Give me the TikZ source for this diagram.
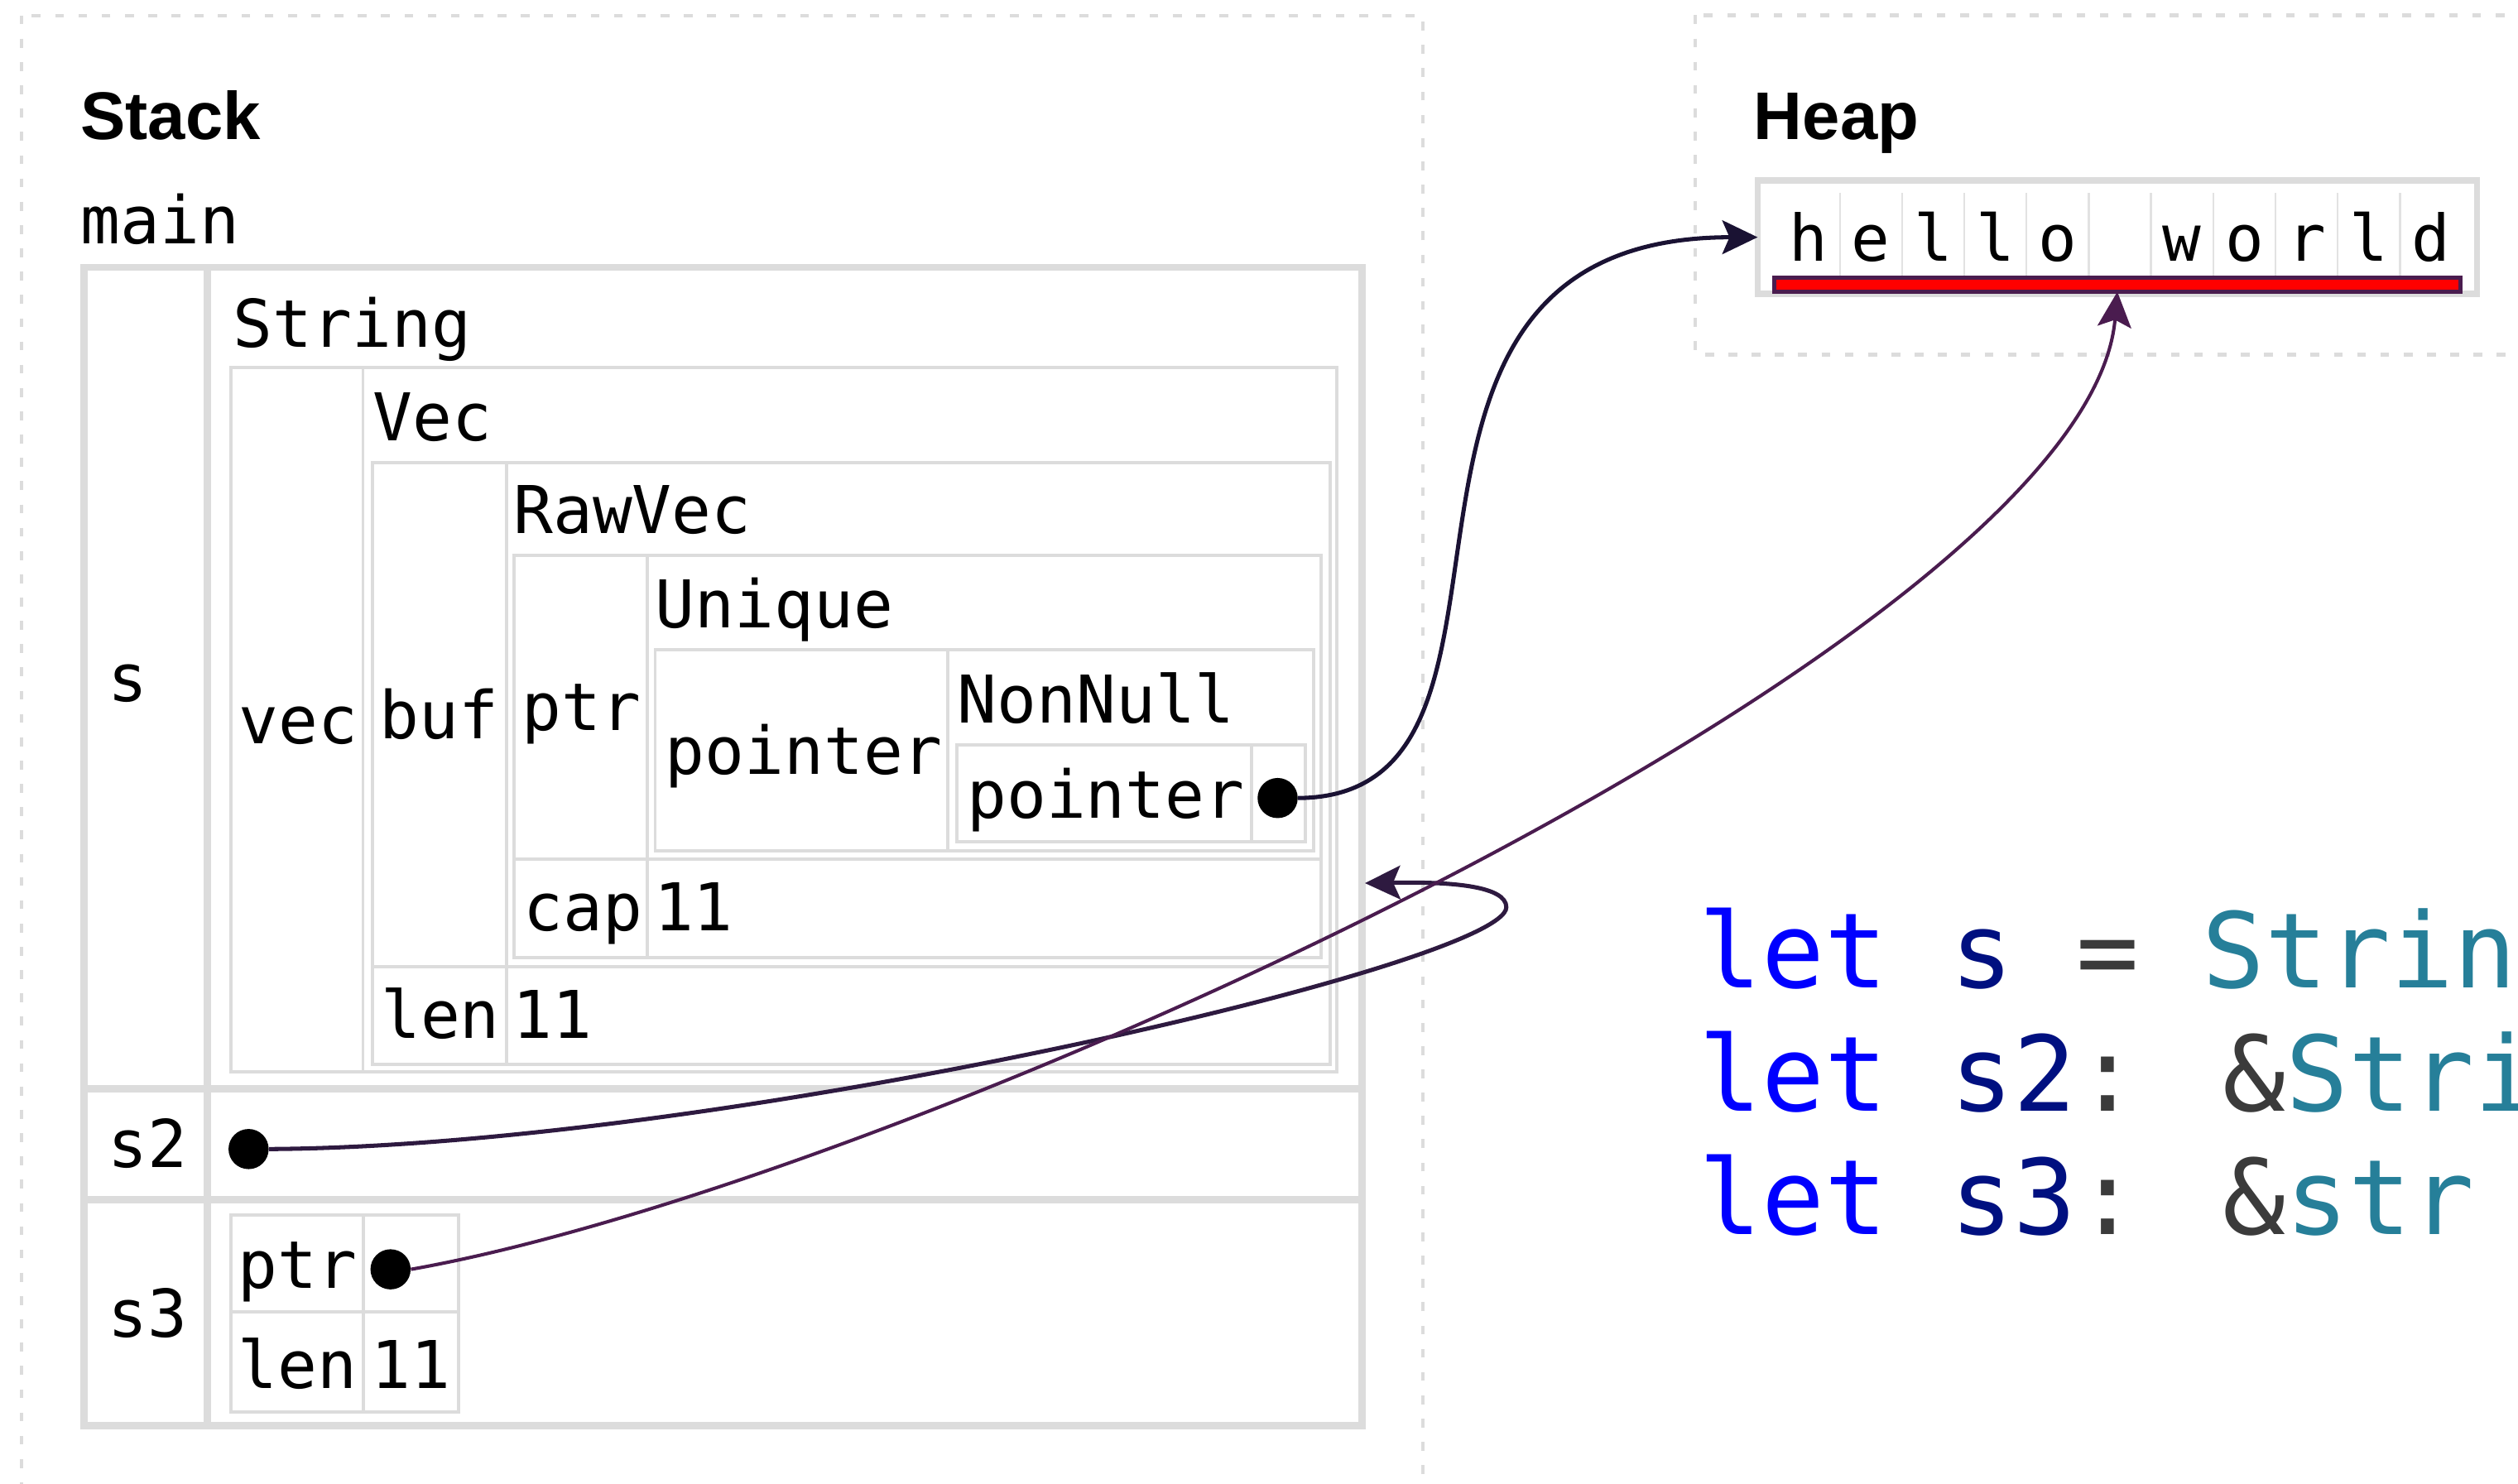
\documentclass[tikz,border=0pt]{standalone}
\usepackage{fontspec}
\setmainfont{DejaVu Sans Mono}
\newfontfamily\headfont{Liberation Sans}
\newfontfamily\tabfont{DejaVu Sans Mono}
\usetikzlibrary{arrows.meta}
\definecolor{gridc}{HTML}{DCDCDC}
\definecolor{cellc}{HTML}{E2E2E2}
\definecolor{navyA}{HTML}{1A1233}
\definecolor{plumA}{HTML}{2E1A40}
\definecolor{plumB}{HTML}{4A1C4F}
\definecolor{kwc}{HTML}{0000FF}
\definecolor{varc}{HTML}{001080}
\definecolor{punc}{HTML}{3B3B3B}
\definecolor{typec}{HTML}{267F99}
\begin{document}
\begin{tikzpicture}[x=1pt,y=-1pt,
  thickbox/.style={draw=gridc,line width=4.5pt},
  thinbox/.style={draw=gridc,line width=2pt},
  dashbox/.style={draw=gridc,line width=2.2pt,dash pattern=on 5.5pt off 9pt},
  lbl/.style={anchor=base west,inner sep=0pt,font=\tabfont\fontsize{41}{41}\selectfont},
  head/.style={anchor=base west,inner sep=0pt,font=\headfont\bfseries\fontsize{42}{42}\selectfont},
  code/.style={anchor=base west,inner sep=0pt,font=\tabfont\fontsize{65}{65}\selectfont},
  chr/.style={anchor=base,inner sep=0pt,font=\tabfont\fontsize{40}{40}\selectfont},
  dot/.style={circle,fill=black,inner sep=0pt,minimum size=25pt},
  ptrarrow/.style={line width=2.6pt,-{Stealth[length=22pt,width=21pt,inset=4.5pt]}}
]
\useasboundingbox (0,0) rectangle (1568,923.7);

% dashed regions
\draw[dashbox] (13.3,9.7) rectangle (886,970);
\draw[dashbox] (1055.6,9.5) rectangle (1640,220.8);

% titles
\node[head] (stackT) at (50,87) {Stack};
\node[head] (heapT) at (1092,87) {Heap};
\node[lbl] (mainT) at (50,152) {main};

% main table
\draw[thickbox] (52.5,166.5) rectangle (848,888);
\draw[thickbox] (129,166.5) -- (129,888);
\draw[thickbox] (52.5,678) -- (848,678);
\draw[thickbox] (52.5,747) -- (848,747);

% row s
\node[lbl] (sL) at (67,437) {s};
\node[lbl] (stringT) at (145,216) {String};
\draw[thinbox] (144,229) rectangle (832.5,667.6);
\draw[thinbox] (226,229) -- (226,667.6);
\node[lbl] (vecL) at (148.5,463) {vec};
\node[lbl] (vecT) at (232,274.5) {Vec};
\draw[thinbox] (232,288) rectangle (828.5,663);
\draw[thinbox] (315.5,288) -- (315.5,663);
\draw[thinbox] (232,602) -- (828.5,602);
\node[lbl] (bufL) at (236,460) {buf};
\node[lbl] (rawT) at (319.5,332.3) {RawVec};
\draw[thinbox] (320,346) rectangle (822.5,596.5);
\draw[thinbox] (403,346) -- (403,596.5);
\draw[thinbox] (320,535) -- (822.5,535);
\node[lbl] (ptrL) at (325,454.7) {ptr};
\node[lbl] (uniqT) at (408,391) {Unique};
\draw[thinbox] (408,404.5) rectangle (818,530);
\draw[thinbox] (590.3,404.5) -- (590.3,530);
\node[lbl] (pointerL) at (414,482) {pointer};
\node[lbl] (nnT) at (596,450) {NonNull};
\draw[thinbox] (596,463.8) rectangle (813,524);
\draw[thinbox] (779.5,463.8) -- (779.5,524);
\node[lbl] (pointer2L) at (602,509.5) {pointer};
\node[lbl] (capL) at (326,579.7) {cap};
\node[lbl] (capV) at (407,579.7) {11};
\node[lbl] (lenL) at (237,646.5) {len};
\node[lbl] (lenV) at (319,646.5) {11};

% row s2
\node[lbl] (s2L) at (67,727) {s2};
% row s3
\node[lbl] (s3L) at (67,832.7) {s3};
\draw[thinbox] (144,756.5) rectangle (285.5,879.5);
\draw[thinbox] (226.4,756.5) -- (226.4,879.5);
\draw[thinbox] (144,817) -- (285.5,817);
\node[lbl] (ptr3L) at (148,802.2) {ptr};
\node[lbl] (len3L) at (148,864.4) {len};
\node[lbl] (len3V) at (231,864.4) {11};

% heap
\node[draw=gridc,line width=4pt,fill=white,minimum width=448pt,minimum height=70.5pt,inner sep=0pt,outer sep=0pt] (heap) at (1318.5,147.75) {};
\foreach \i in {1,...,10} {
  \draw[cellc,line width=1.2pt] ({1106.9+38.76*\i},120.3) -- ({1106.9+38.76*\i},171.8);
}
\foreach \c [count=\i from 0] in {h,e,l,l,o,{},w,o,r,l,d} {
  \node[chr] (ch\i) at ({1106.9+38.76*(\i+0.5)},162.4) {\c};
}
\node[draw=plumB,fill=red,line width=2.6pt,minimum width=427.2pt,minimum height=8.6pt,inner sep=0pt,outer sep=0pt] (bar) at (1318.5,177.4) {};

% code
\node[code] (code1) at (1058,615.1) {\textcolor{kwc}{let} \textcolor{varc}{s} \textcolor{punc}{=} \textcolor{typec}{Strin}};
\node[code] (code2) at (1058,692) {\textcolor{kwc}{let} \textcolor{varc}{s2}\textcolor{punc}{: \&}\textcolor{typec}{Stri}};
\node[code] (code3) at (1058,768.9) {\textcolor{kwc}{let} \textcolor{varc}{s3}\textcolor{punc}{: \&}\textcolor{typec}{str}};

% dots
\node[dot] (d1) at (795.6,497) {};
\node[dot] (d2) at (154.8,715.6) {};
\node[dot] (d3) at (243.2,790.5) {};
\coordinate (loopR) at (938,565);
\coordinate (s2tgt) at (850,550);

% arrows
\draw[ptrarrow,draw=navyA] (d1.east) .. controls (980,496) and (820,147.75) .. (heap.west);
\draw[ptrarrow,draw=plumA] (d2.east) .. controls (450,714) and (938,600) .. (loopR) .. controls (938,552) and (905,549) .. (s2tgt);
\draw[ptrarrow,line width=2.1pt,draw=plumB] (d3.east) .. controls (560,737) and (1300,400) .. (bar.south);
\end{tikzpicture}
\end{document}
